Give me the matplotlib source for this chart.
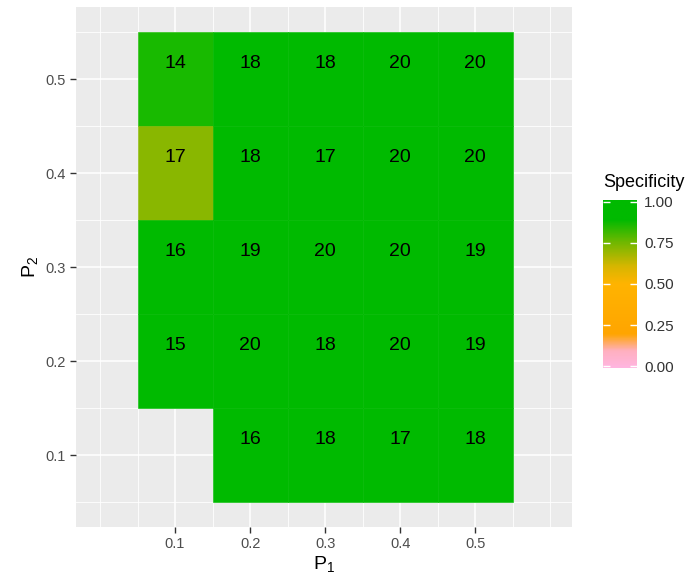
import numpy as np
import matplotlib
matplotlib.use('Agg')
import matplotlib.pyplot as plt
from matplotlib.colors import LinearSegmentedColormap, Normalize

plt.rcParams['font.family'] = ['Liberation Sans', 'DejaVu Sans']
plt.rcParams['mathtext.fontset'] = 'custom'
plt.rcParams['mathtext.rm'] = 'Liberation Sans'
plt.rcParams['mathtext.it'] = 'Liberation Sans'

# tiles (P1, P2), count label, specificity
p1 = [0.1, 0.2, 0.3, 0.4, 0.5,
      0.1, 0.2, 0.3, 0.4, 0.5,
      0.1, 0.2, 0.3, 0.4, 0.5,
      0.1, 0.2, 0.3, 0.4, 0.5,
      0.2, 0.3, 0.4, 0.5]
p2 = [0.5] * 5 + [0.4] * 5 + [0.3] * 5 + [0.2] * 5 + [0.1] * 4
counts = [14, 18, 18, 20, 20,
          17, 18, 17, 20, 20,
          16, 19, 20, 20, 19,
          15, 20, 18, 20, 19,
          16, 18, 17, 18]
spec = [0.85, 1, 1, 1, 1,
        0.71, 1, 1, 1, 1,
        1, 1, 1, 1, 1,
        1, 1, 1, 1, 1,
        1, 1, 1, 1]
ticks = [0.1, 0.2, 0.3, 0.4, 0.5]
cbar_ticks = [0.0, 0.25, 0.5, 0.75, 1.0]

cmap = LinearSegmentedColormap.from_list('spec', [
    (0.0, '#FFB6E1'), (0.1, '#FFB0C0'), (0.2, '#FFA500'), (0.5, '#FFB400'),
    (0.6, '#D8B600'), (0.75, '#6CB800'), (0.88, '#00BA00'), (1.0, '#00BA00')])
norm = Normalize(0, 1)

fig = plt.figure(figsize=(6.99, 5.79), dpi=100)
ax = fig.add_axes([0.1087, 0.0898, 0.7096, 0.8981])
ax.set_facecolor('#EBEBEB')
for s in ax.spines.values():
    s.set_visible(False)

# grid lines like ggplot
for v in np.arange(0.0, 0.61, 0.05):
    major = any(abs(v - t) < 1e-6 for t in ticks)
    ax.axvline(v, color='white', lw=1.1 if major else 0.6, zorder=0)
for v in np.arange(0.05, 0.56, 0.05):
    major = any(abs(v - t) < 1e-6 for t in ticks)
    ax.axhline(v, color='white', lw=1.1 if major else 0.6, zorder=0)

colors = cmap(norm(spec))
ax.bar(p1, 0.1, bottom=np.array(p2) - 0.05, width=0.1, color=colors,
       edgecolor=colors, linewidth=0.4, zorder=2)
for x, y, c in zip(p1, p2, counts):
    ax.annotate(str(c), (x, y), xytext=(0, 11), textcoords='offset points',
                ha='center', va='center', fontsize=14, color='black', zorder=3)

ax.set_xlim(-0.032, 0.629)
ax.set_ylim(0.0234, 0.5766)
ax.set_xticks(ticks)
ax.set_yticks(ticks)
ax.set_xticklabels([str(t) for t in ticks])
ax.set_yticklabels([str(t) for t in ticks])
ax.tick_params(colors='#333333', labelcolor='#4D4D4D', labelsize=10.5, length=4, width=1)
ax.set_xlabel(r'$\mathregular{P_1}$', fontsize=14, labelpad=2)
ax.set_ylabel(r'$\mathregular{P_2}$', fontsize=14, labelpad=4)

# colour bar
cax = fig.add_axes([0.8627, 0.3644, 0.0486, 0.2902])
nbin = 300
grad = (np.arange(nbin) + 0.5) / nbin
cax.imshow(grad[:, None], origin='lower', aspect='auto', cmap=cmap, norm=norm,
           extent=(0, 1, -0.01, 1.01), interpolation='bilinear')
cax.set_xlim(0, 1)
cax.set_ylim(-0.01, 1.01)
cax.set_xticks([])
cax.set_yticks(cbar_ticks)
cax.set_yticklabels(['%.2f' % t for t in cbar_ticks])
cax.tick_params(axis='y', direction='in', color='white', length=5, width=1,
                left=True, right=True, labelleft=False, labelright=True,
                labelsize=11, labelcolor='#333333', pad=5)
for s in cax.spines.values():
    s.set_visible(False)
fig.text(0.8627, 0.685, 'Specificity', fontsize=13, ha='left', va='center')

fig.savefig('out.png', dpi=100)
